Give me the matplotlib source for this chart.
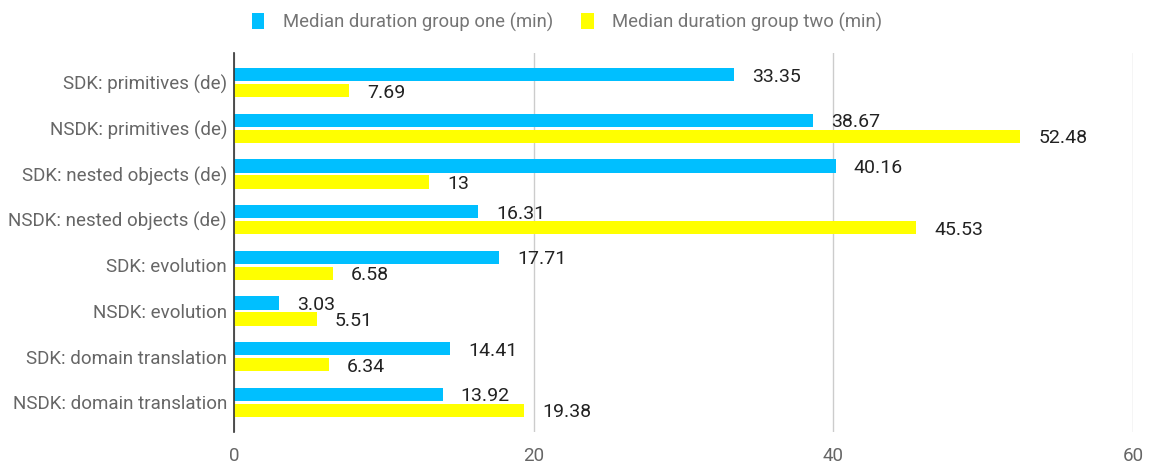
import numpy as np
import matplotlib
matplotlib.use('Agg')
import matplotlib.pyplot as plt

plt.rcParams['font.family'] = ['Roboto', 'DejaVu Sans']

categories = ['SDK: primitives (de)', 'NSDK: primitives (de)', 'SDK: nested objects (de)',
              'NSDK: nested objects (de)', 'SDK: evolution', 'NSDK: evolution',
              'SDK: domain translation', 'NSDK: domain translation']
group_one = [33.35, 38.67, 40.16, 16.31, 17.71, 3.03, 14.41, 13.92]
group_two = [7.69, 52.48, 13, 45.53, 6.58, 5.51, 6.34, 19.38]
labels_one = ['33.35', '38.67', '40.16', '16.31', '17.71', '3.03', '14.41', '13.92']
labels_two = ['7.69', '52.48', '13', '45.53', '6.58', '5.51', '6.34', '19.38']
series_names = ['Median duration group one (min)', 'Median duration group two (min)']
xticks = [0, 20, 40, 60]

blue = '#00BFFF'
yellow = '#FFFF00'

fig = plt.figure(figsize=(11.5, 4.63), dpi=100)
ax = fig.add_axes([234 / 1150, 1 - 432 / 463, (1133 - 234) / 1150, (432 - 53) / 463])

y = np.arange(len(categories))
h = 0.29
b1 = ax.barh(y - 0.175, group_one, height=h, color=blue, label=series_names[0], zorder=3)
b2 = ax.barh(y + 0.175, group_two, height=h, color=yellow, label=series_names[1], zorder=3)

for bars, labs in [(b1, labels_one), (b2, labels_two)]:
    for rect, lab in zip(bars, labs):
        ax.annotate(lab, (rect.get_width(), rect.get_y() + rect.get_height() / 2),
                    xytext=(13, -1.5), textcoords='offset points', ha='left', va='center',
                    fontsize=14, color='#222222', zorder=5)

ax.set_xlim(0, 60)
ax.set_ylim(7.65, -0.65)
ax.set_xticks(xticks)
ax.set_xticklabels([str(t) for t in xticks])
ax.set_yticks(y)
ax.set_yticklabels(categories)
ax.tick_params(axis='both', length=0, labelsize=13.5, colors='#666666')
ax.tick_params(axis='x', pad=11)
ax.tick_params(axis='y', pad=5)
ax.grid(axis='x', color='#CCCCCC', linewidth=1, zorder=0)
for s in ['top', 'right', 'bottom']:
    ax.spines[s].set_visible(False)
ax.spines['left'].set_color('#333333')
ax.spines['left'].set_linewidth(1.2)
ax.spines['left'].set_zorder(4)

leg = fig.legend(handles=[b1, b2], loc='center', bbox_to_anchor=(567 / 1150, 1 - 22 / 463), ncol=2,
                 frameon=False, handlelength=0.7, handleheight=1.0, handletextpad=1.0,
                 columnspacing=1.5, fontsize=13.3)
for t in leg.get_texts():
    t.set_color('#757575')

fig.savefig('out.png', dpi=100)
